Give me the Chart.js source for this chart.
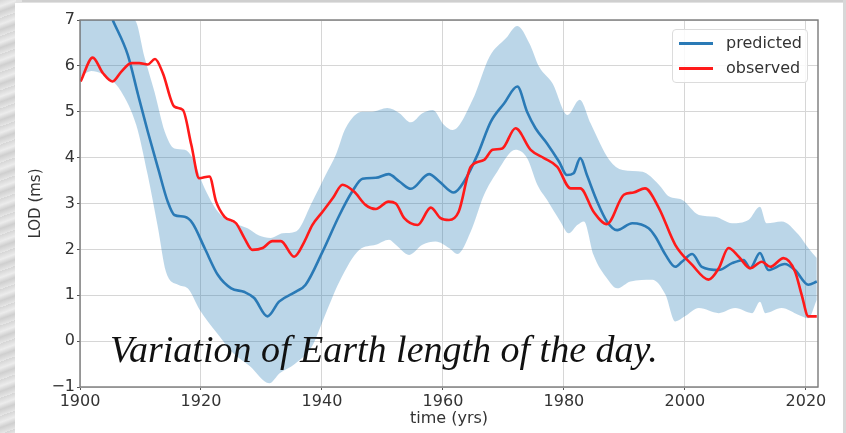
<!DOCTYPE html>
<html>
<head>
<meta charset="utf-8">
<script src="https://cdn.jsdelivr.net/npm/chart.js@4.4.1/dist/chart.umd.min.js"></script>
<style>
  html, body { margin:0; padding:0; }
  body { width:846px; height:433px; position:relative; overflow:hidden; background:#e2e2e2; font-family:"DejaVu Sans", sans-serif; }
  #tex { position:absolute; left:0; top:0; width:16px; height:433px;
         background: repeating-linear-gradient(160deg, #d6d6d6 0px, #ececec 6px, #cfcfcf 11px, #e6e6e6 17px); }
  #card { position:absolute; left:15px; top:3px; width:828px; height:430px; background:#fff; }
  #topline { position:absolute; left:22px; top:0; width:822px; height:2px; background:#cfcfcf; }
  #rightline { position:absolute; left:843px; top:0; width:3px; height:433px; background:#d8d8d8; }
  canvas { position:absolute; left:0; top:0; }
  #caption { position:absolute; left:110px; top:330px; font-family:"Liberation Serif", serif; font-style:italic;
             font-size:38px; line-height:38px; color:#111; white-space:nowrap; }
  #legend { position:absolute; left:672px; top:29px; width:136px; height:54px; border:1px solid #dcdcdc;
            border-radius:4px; background:rgba(255,255,255,0.85); box-sizing:border-box; }
  .item { position:absolute; left:0; height:20px; width:136px; }
  .sw { position:absolute; left:6px; top:9px; width:34px; height:2.6px; }
  .lbl { position:absolute; left:53px; top:0; font-size:16px; line-height:20px; color:#333; }
</style>
</head>
<body>
<div id="tex"></div>
<div id="card"></div>
<div id="topline"></div>
<div id="rightline"></div>
<canvas id="c" width="846" height="433"></canvas>
<div id="caption">Variation of Earth length of the day.</div>
<div id="legend"></div>
<script>
// ---- data ----
const xTickValues = [1900, 1920, 1940, 1960, 1980, 2000, 2020];
const yTickValues = [-1, 0, 1, 2, 3, 4, 5, 6, 7];

const predYears = [1905.4,1907.9,1909.6,1911.2,1912.9,1914.5,1915.6,1917.3,1918.6,1920.6,1922.8,1925.0,1927.2,1928.8,1931.0,1932.9,1935.7,1937.3,1940.1,1942.9,1945.0,1946.7,1948.9,1951.0,1952.8,1954.7,1957.7,1959.4,1961.8,1963.5,1965.7,1967.9,1970.1,1972.3,1973.9,1975.3,1977.2,1979.2,1980.5,1981.6,1982.7,1983.8,1985.5,1987.1,1988.8,1991.3,1994.0,1995.1,1996.8,1998.4,1999.5,2001.2,2002.8,2005.6,2007.8,2009.7,2010.8,2012.4,2013.8,2016.5,2018.2,2020.4,2021.8];
const predValues = [7.0,6.24,5.37,4.57,3.77,3.04,2.75,2.71,2.57,2.03,1.44,1.15,1.07,0.94,0.54,0.86,1.08,1.23,1.95,2.75,3.26,3.54,3.56,3.64,3.48,3.32,3.64,3.48,3.24,3.48,4.06,4.78,5.18,5.55,5.0,4.64,4.31,3.91,3.62,3.66,3.99,3.62,3.04,2.61,2.42,2.57,2.46,2.28,1.88,1.62,1.73,1.90,1.62,1.55,1.70,1.77,1.59,1.92,1.55,1.68,1.55,1.23,1.30];

const obsYears = [1900.1,1902.1,1903.8,1905.4,1906.8,1908.5,1909.8,1911.2,1912.4,1913.7,1915.6,1917.0,1918.4,1919.7,1921.4,1922.5,1923.9,1925.8,1927.2,1928.5,1930.2,1931.8,1933.2,1935.4,1937.1,1938.4,1940.1,1941.8,1943.4,1945.3,1947.2,1948.9,1951.0,1952.2,1953.6,1955.8,1958.0,1959.6,1961.0,1962.6,1964.6,1966.8,1968.2,1969.8,1972.0,1974.5,1976.7,1978.9,1981.1,1982.7,1984.9,1987.1,1989.9,1991.5,1993.4,1995.7,1998.4,2001.2,2003.9,2005.6,2007.2,2008.9,2010.8,2012.7,2014.1,2016.3,2018.2,2019.3,2020.4,2021.8];
const obsValues = [5.66,6.18,5.84,5.66,5.87,6.06,6.06,6.03,6.15,5.84,5.11,5.04,4.28,3.55,3.59,3.04,2.71,2.57,2.24,1.99,2.03,2.18,2.18,1.84,2.17,2.53,2.82,3.12,3.41,3.26,2.97,2.88,3.04,3.0,2.68,2.53,2.91,2.68,2.64,2.82,3.80,3.95,4.17,4.20,4.64,4.17,3.99,3.80,3.33,3.33,2.82,2.55,3.19,3.24,3.33,2.90,2.10,1.66,1.34,1.59,2.03,1.84,1.59,1.73,1.62,1.81,1.52,1.01,0.54,0.54];

const upperYears = [1900,1909.0,1910.7,1912.3,1914.0,1915.6,1917.3,1918.6,1920.6,1922.8,1925.5,1927.7,1929.6,1931.5,1933.5,1935.7,1938.4,1940.6,1942.3,1943.9,1946.7,1948.3,1950.8,1952.8,1954.7,1956.6,1958.3,1960.2,1961.6,1964.9,1967.7,1970.4,1972.3,1974.3,1975.9,1978.1,1980.6,1982.6,1984.4,1987.5,1989.7,1993.0,1995.7,1997.4,1999.5,2002.3,2005.0,2007.8,2010.5,2012.4,2013.5,2016.0,2018.8,2020.4,2021.8];
const upperValues = [7.0,7.0,6.17,5.44,4.57,4.20,4.17,3.99,3.33,2.82,2.57,2.46,2.3,2.25,2.35,2.39,3.04,3.62,4.06,4.64,5.0,5.0,5.08,4.97,4.77,4.97,5.04,4.71,4.60,5.26,6.2,6.6,6.87,6.49,5.98,5.62,4.93,5.26,4.75,3.95,3.73,3.69,3.41,3.15,3.08,2.75,2.71,2.57,2.64,2.93,2.57,2.61,2.32,2.03,1.81];

const lowerYears = [1900.0,1901.9,1905.2,1906.8,1909.3,1911.2,1912.9,1914.2,1916.2,1917.8,1919.8,1922.6,1925.3,1928.1,1931.3,1933.0,1935.5,1938.4,1940.1,1942.9,1946.2,1948.9,1951.1,1952.2,1954.4,1956.6,1958.8,1961.0,1962.4,1964.6,1966.8,1969.0,1972.0,1973.9,1975.6,1977.2,1979.4,1980.8,1982.2,1983.3,1984.9,1987.1,1988.8,1991.0,1994.6,1996.8,1998.4,2000.0,2002.3,2005.6,2008.3,2011.1,2012.4,2013.3,2016.0,2018.8,2020.4,2021.8];
const lowerValues = [5.76,5.89,5.69,5.44,4.71,3.62,2.46,1.52,1.23,1.15,0.68,0.18,-0.26,-0.55,-0.92,-0.7,-0.5,-0.1,0.43,1.30,1.99,2.10,2.21,2.10,1.88,2.10,2.17,2.03,1.90,2.39,3.19,3.70,4.17,3.99,3.41,3.08,2.61,2.35,2.53,2.61,1.88,1.37,1.15,1.30,1.34,1.01,0.43,0.54,0.72,0.61,0.72,0.61,0.86,0.61,0.72,0.57,0.50,0.9];

const toPts = (xs, ys) => xs.map((x, i) => ({ x: x, y: ys[i] }));

const bandFill = 'rgba(31,119,180,0.3)';
const datasets = [
  { label: 'observed', data: toPts(obsYears, obsValues), borderColor: '#ff1a1a', borderWidth: 2.6,
    pointRadius: 0, cubicInterpolationMode: 'monotone', fill: false },
  { label: 'predicted', data: toPts(predYears, predValues), borderColor: '#2a7ab6', borderWidth: 2.6,
    pointRadius: 0, cubicInterpolationMode: 'monotone', fill: false },
  { label: 'upper', data: toPts(upperYears, upperValues), borderColor: 'rgba(0,0,0,0)', borderWidth: 0,
    pointRadius: 0, cubicInterpolationMode: 'monotone', fill: '+1', backgroundColor: bandFill },
  { label: 'lower', data: toPts(lowerYears, lowerValues), borderColor: 'rgba(0,0,0,0)', borderWidth: 0,
    pointRadius: 0, cubicInterpolationMode: 'monotone', fill: false }
];

const frame = {
  id: 'frame',
  afterDatasetsDraw(chart) {
    const a = chart.chartArea, ctx = chart.ctx;
    ctx.save();
    ctx.strokeStyle = '#7a7a7a';
    ctx.lineWidth = 1.4;
    ctx.strokeRect(a.left, a.top, a.right - a.left, a.bottom - a.top);
    ctx.restore();
  }
};

const tickFont = { family: 'DejaVu Sans', size: 16 };
const chart = new Chart(document.getElementById('c'), {
  type: 'line',
  data: { datasets: datasets },
  plugins: [frame],
  options: {
    responsive: false, animation: false, devicePixelRatio: 1,
    layout: { padding: { top: 20, right: 28, left: 0, bottom: 0 } },
    plugins: { legend: { display: false }, tooltip: { enabled: false } },
    scales: {
      x: {
        type: 'linear', min: 1900, max: 2022,
        afterBuildTicks: s => { s.ticks = xTickValues.map(v => ({ value: v })); },
        afterFit: s => { s.height = 46; },
        grid: { color: '#d6d6d6', lineWidth: 1, tickColor: '#555', tickLength: 3 },
        border: { display: false },
        ticks: { font: tickFont, color: '#333', padding: 2, maxRotation: 0, callback: v => String(v) },
        title: { display: true, text: 'time (yrs)', font: { family: 'DejaVu Sans', size: 16 }, color: '#333',
                 padding: { top: 0, bottom: 5 } }
      },
      y: {
        min: -1, max: 7,
        afterBuildTicks: s => { s.ticks = yTickValues.map(v => ({ value: v })); },
        afterFit: s => { s.width = 80; },
        grid: { color: '#d6d6d6', lineWidth: 1, tickColor: '#555', tickLength: 3 },
        border: { display: false },
        ticks: { font: tickFont, color: '#333', padding: 2, callback: v => String(v).replace('-', '\u2212') },
        title: { display: true, text: 'LOD (ms)', font: { family: 'DejaVu Sans', size: 15 }, color: '#333',
                 padding: { top: 27, bottom: 0 } }
      }
    }
  }
});

// legend built from the chart's datasets (predicted first, like the reference)
const legend = document.getElementById('legend');
['predicted', 'observed'].forEach((name, i) => {
  const ds = chart.data.datasets.find(d => d.label === name);
  const row = document.createElement('div');
  row.className = 'item';
  row.style.top = (3 + i * 25) + 'px';
  row.innerHTML = '<div class="sw" style="background:' + ds.borderColor + '"></div><div class="lbl">' + ds.label + '</div>';
  legend.appendChild(row);
});
</script>
</body>
</html>
